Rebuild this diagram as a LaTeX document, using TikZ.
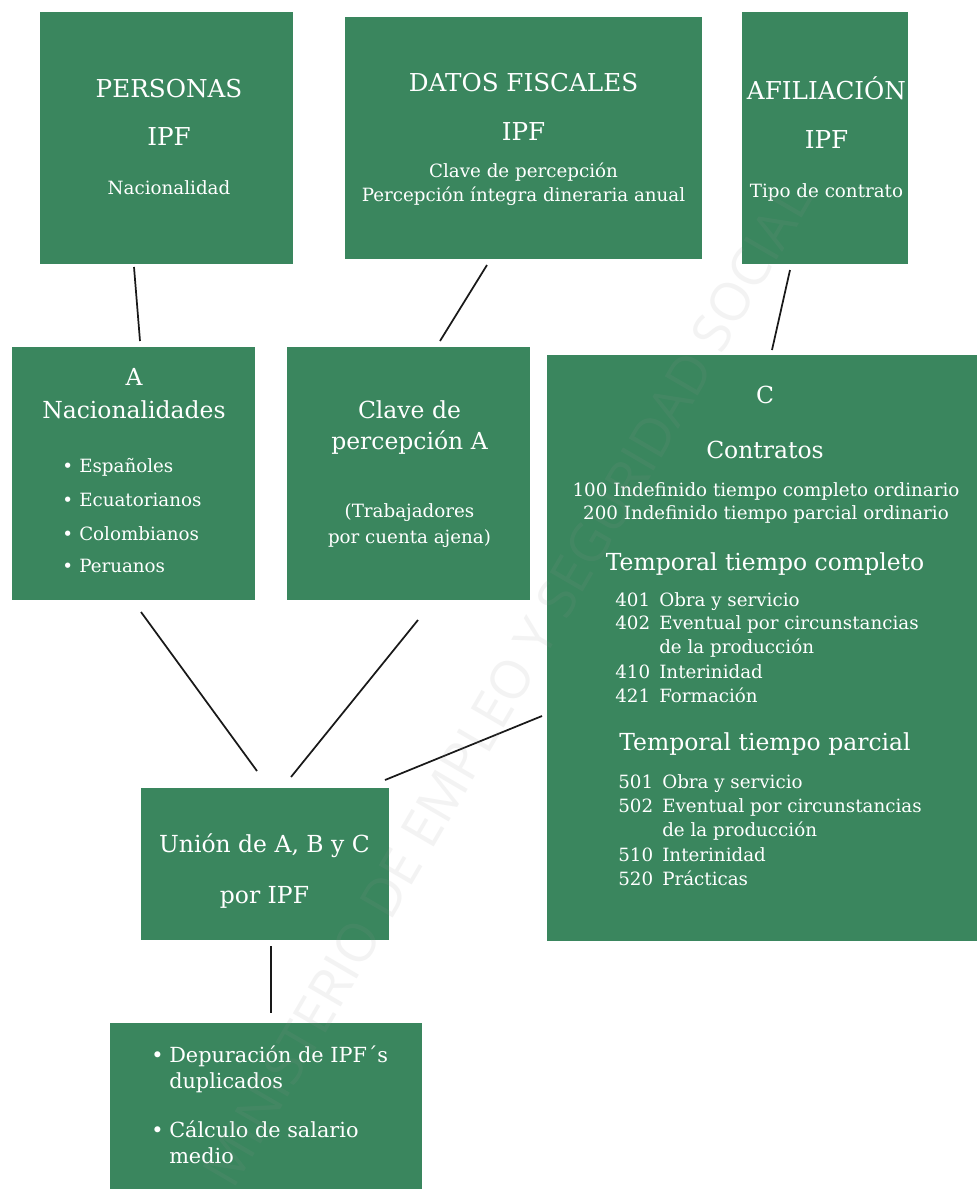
\documentclass[tikz,border=0pt]{standalone}
\usepackage{fontspec}
\setmainfont{DejaVu Serif}
\newfontfamily\wmfont{Open Sans}
\definecolor{boxgreen}{HTML}{3A865E}
\definecolor{wmgray}{RGB}{148,148,148}
\newcommand\Hd{\fontsize{18.5}{22}\selectfont}
\newcommand\Lg{\fontsize{17.6}{21}\selectfont}
\newcommand\Md{\fontsize{13.7}{16}\selectfont}
\newcommand\Bt{\fontsize{15.6}{18}\selectfont}
\tikzset{
  box/.style={rectangle, fill=boxgreen, inner sep=0pt, outer sep=0pt},
  txt/.style={text=white, inner sep=0pt, anchor=base},
  ltxt/.style={text=white, inner sep=0pt, anchor=base west},
  conn/.style={draw=black!90, line width=1.3pt},
  wm/.style={inner sep=0pt, rotate=59.7, font=\wmfont\fontsize{40}{46}\selectfont}
}
\begin{document}
\begin{tikzpicture}[x=0.75pt, y=-0.75pt]
\useasboundingbox (0,0) rectangle (977,1189);
\fill[white] (0,0) rectangle (977,1189);
% boxes
\node[box, minimum width=189.75pt, minimum height=189pt] (pers) at (166.5,138) {};
\node[box, minimum width=267.75pt, minimum height=181.5pt] (datos) at (523.5,138) {};
\node[box, minimum width=124.5pt, minimum height=189pt] (afil) at (825,138) {};
\node[box, minimum width=182.25pt, minimum height=189.75pt] (nac) at (133.5,473.5) {};
\node[box, minimum width=182.25pt, minimum height=189.75pt] (clave) at (408.5,473.5) {};
\node[box, minimum width=322.5pt, minimum height=439.5pt] (contr) at (762,648) {};
\node[box, minimum width=186pt, minimum height=114pt] (union) at (265,864) {};
\node[box, minimum width=234pt, minimum height=124.5pt] (dep) at (266,1106) {};
% top row texts
\node[txt, font=\Hd] (t1) at (169,97) {PERSONAS};
\node[txt, font=\Hd] (t2) at (169,145) {IPF};
\node[txt, font=\Md] (t3) at (169,194) {Nacionalidad};
\node[txt, font=\Hd] (t4) at (523.5,91) {DATOS FISCALES};
\node[txt, font=\Hd] (t5) at (523.5,140) {IPF};
\node[txt, font=\Md] (t6) at (523.5,177) {Clave de percepción};
\node[txt, font=\Md] (t7) at (523.5,201) {Percepción íntegra dineraria anual};
\node[txt, font=\Hd] (t8) at (826.5,99) {AFILIACIÓN};
\node[txt, font=\Hd] (t9) at (826.5,148) {IPF};
\node[txt, font=\Md] (t10) at (826.5,197) {Tipo de contrato};
% A box
\node[txt, font=\Lg] (a1) at (134,385) {A};
\node[txt, font=\Lg] (a2) at (134,418) {Nacionalidades};
\node[ltxt, font=\Md] (a3d) at (62,472) {\textbullet};
\node[ltxt, font=\Md] (a3) at (79,472) {Españoles};
\node[ltxt, font=\Md] (a4d) at (62,506) {\textbullet};
\node[ltxt, font=\Md] (a4) at (79,506) {Ecuatorianos};
\node[ltxt, font=\Md] (a5d) at (62,540) {\textbullet};
\node[ltxt, font=\Md] (a5) at (79,540) {Colombianos};
\node[ltxt, font=\Md] (a6d) at (62,572) {\textbullet};
\node[ltxt, font=\Md] (a6) at (79,572) {Peruanos};
% B box
\node[txt, font=\Lg] (b1) at (409.5,418) {Clave de};
\node[txt, font=\Lg] (b2) at (409.5,449) {percepción A};
\node[txt, font=\Md] (b3) at (409.5,517) {(Trabajadores};
\node[txt, font=\Md] (b4) at (409.5,543) {por cuenta ajena)};
% C box
\node[txt, font=\Lg] (c1) at (765,403) {C};
\node[txt, font=\Lg] (c2) at (765,458) {Contratos};
\node[txt, font=\Md] (c3) at (766,496) {100 Indefinido tiempo completo ordinario};
\node[txt, font=\Md] (c4) at (766,519) {200 Indefinido tiempo parcial ordinario};
\node[txt, font=\Lg] (c5) at (765,570) {Temporal tiempo completo};
\node[ltxt, font=\Md] (n401) at (615,606) {401};
\node[ltxt, font=\Md] (l401) at (659,606) {Obra y servicio};
\node[ltxt, font=\Md] (n402) at (615,629) {402};
\node[ltxt, font=\Md] (l402) at (659,629) {Eventual por circunstancias};
\node[ltxt, font=\Md] (l402b) at (659,653) {de la producción};
\node[ltxt, font=\Md] (n410) at (615,678) {410};
\node[ltxt, font=\Md] (l410) at (659,678) {Interinidad};
\node[ltxt, font=\Md] (n421) at (615,702) {421};
\node[ltxt, font=\Md] (l421) at (659,702) {Formación};
\node[txt, font=\Lg] (c6) at (765,750) {Temporal tiempo parcial};
\node[ltxt, font=\Md] (n501) at (618,788) {501};
\node[ltxt, font=\Md] (l501) at (662,788) {Obra y servicio};
\node[ltxt, font=\Md] (n502) at (618,812) {502};
\node[ltxt, font=\Md] (l502) at (662,812) {Eventual por circunstancias};
\node[ltxt, font=\Md] (l502b) at (662,836) {de la producción};
\node[ltxt, font=\Md] (n510) at (618,861) {510};
\node[ltxt, font=\Md] (l510) at (662,861) {Interinidad};
\node[ltxt, font=\Md] (n520) at (618,885) {520};
\node[ltxt, font=\Md] (l520) at (662,885) {Prácticas};
% Union box
\node[txt, font=\Lg] (u1) at (264.5,852) {Unión de A, B y C};
\node[txt, font=\Lg] (u2) at (264.5,903) {por IPF};
% bottom box
\node[ltxt, font=\Bt] (d1) at (151,1062) {\textbullet};
\node[ltxt, font=\Bt] (d2) at (169,1062) {Depuración de IPF´s};
\node[ltxt, font=\Bt] (d3) at (169,1088) {duplicados};
\node[ltxt, font=\Bt] (d4) at (151,1137) {\textbullet};
\node[ltxt, font=\Bt] (d5) at (169,1137) {Cálculo de salario};
\node[ltxt, font=\Bt] (d6) at (169,1163) {medio};
% connectors
\coordinate (k1a) at (134,267); \coordinate (k1b) at (140,341);
\coordinate (k2a) at (487,265); \coordinate (k2b) at (440,341);
\coordinate (k3a) at (790,270); \coordinate (k3b) at (772,350);
\coordinate (k4a) at (141,612); \coordinate (k4b) at (257,771);
\coordinate (k5a) at (418,620); \coordinate (k5b) at (291,777);
\coordinate (k6a) at (542,716); \coordinate (k6b) at (385,780);
\coordinate (k7a) at (271,946); \coordinate (k7b) at (271,1013);
\draw[conn] (k1a) -- (k1b);
\draw[conn] (k2a) -- (k2b);
\draw[conn] (k3a) -- (k3b);
\draw[conn] (k4a) -- (k4b);
\draw[conn] (k5a) -- (k5b);
\draw[conn] (k6a) -- (k6b);
\draw[conn] (k7a) -- (k7b);
% watermark
\node[wm, text=wmgray, text opacity=0.11] (wmark) at (507,685) {MINISTERIO DE EMPLEO Y SEGURIDAD SOCIAL};
\end{tikzpicture}
\end{document}
